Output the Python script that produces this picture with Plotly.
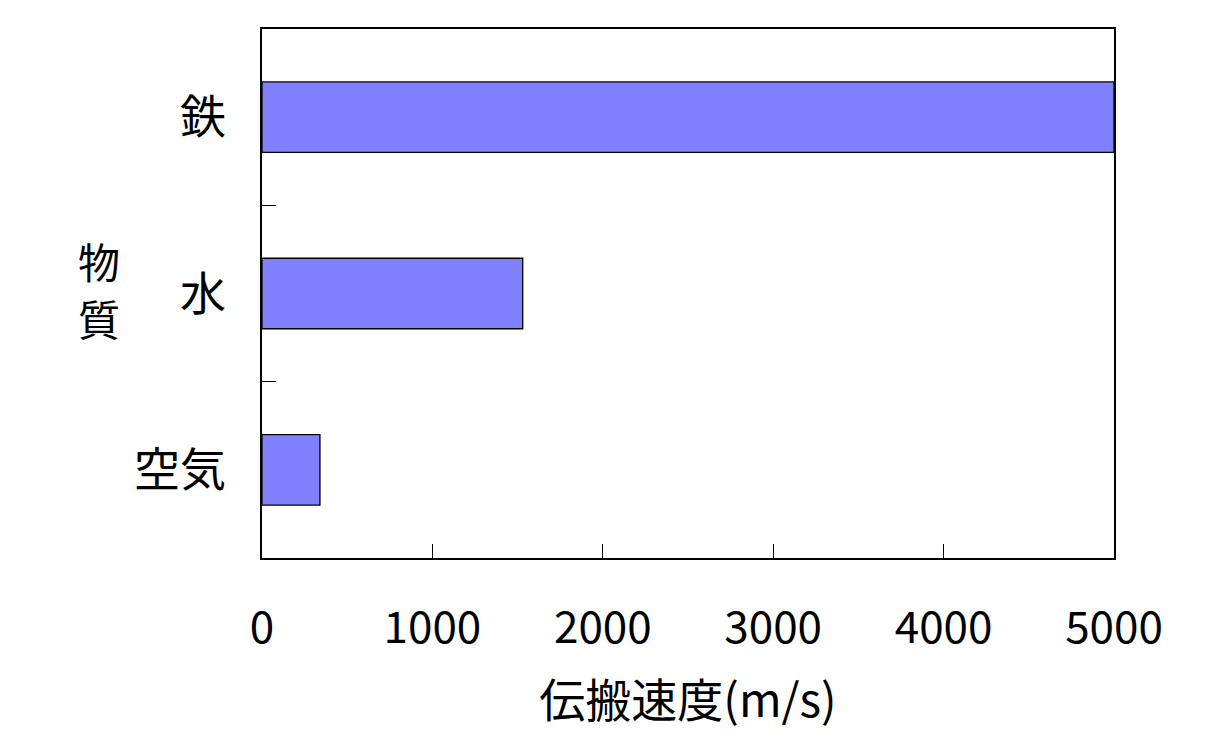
import plotly.graph_objects as go

categories = ["空気", "水", "鉄"]
speeds = [340, 1530, 5000]
x_ticks = [0, 1000, 2000, 3000, 4000, 5000]
x_title = "伝搬速度(m/s)"
y_title_chars = ["物", "質"]

FONT = "Noto Sans CJK JP"

fig = go.Figure(go.Bar(
    y=categories, x=speeds, orientation="h",
    marker=dict(color="#8080FF", line=dict(color="black", width=1.3)),
    width=0.4,
))

# page body has an 8px default margin; compensate so plot area lands at 262..1114 x 29..558
fig.update_layout(
    width=1213, height=750,
    margin=dict(l=254, r=107, t=21, b=200),
    paper_bgcolor="white", plot_bgcolor="white",
    font=dict(family=FONT, size=46, color="black"),
    showlegend=False,
)
fig.update_xaxes(
    range=[0, 5000], tickvals=x_ticks, ticktext=[str(v) for v in x_ticks],
    tickfont=dict(size=44),
    ticks="inside", ticklen=14, tickwidth=1.3, tickcolor="black",
    showline=True, linecolor="black", linewidth=1.5, mirror=True,
    showgrid=False, zeroline=False,
    ticklabelstandoff=30,
    title=dict(text=x_title, standoff=30, font=dict(size=46)),
)
fig.update_yaxes(
    type="category", categoryorder="array", categoryarray=categories,
    tickfont=dict(size=46),
    ticks="inside", tickson="boundaries", ticklen=14, tickwidth=1.3, tickcolor="black",
    showline=True, linecolor="black", linewidth=1.5, mirror=True,
    showgrid=False, zeroline=False,
    ticklabelstandoff=25,
)
for ch, yp in zip(y_title_chars, [0.562, 0.455]):
    fig.add_annotation(
        text=ch, xref="paper", yref="paper", x=-0.1913, y=yp,
        xanchor="center", yanchor="middle", showarrow=False,
        font=dict(family=FONT, size=42, color="black"),
    )
fig.write_html("out.html")
